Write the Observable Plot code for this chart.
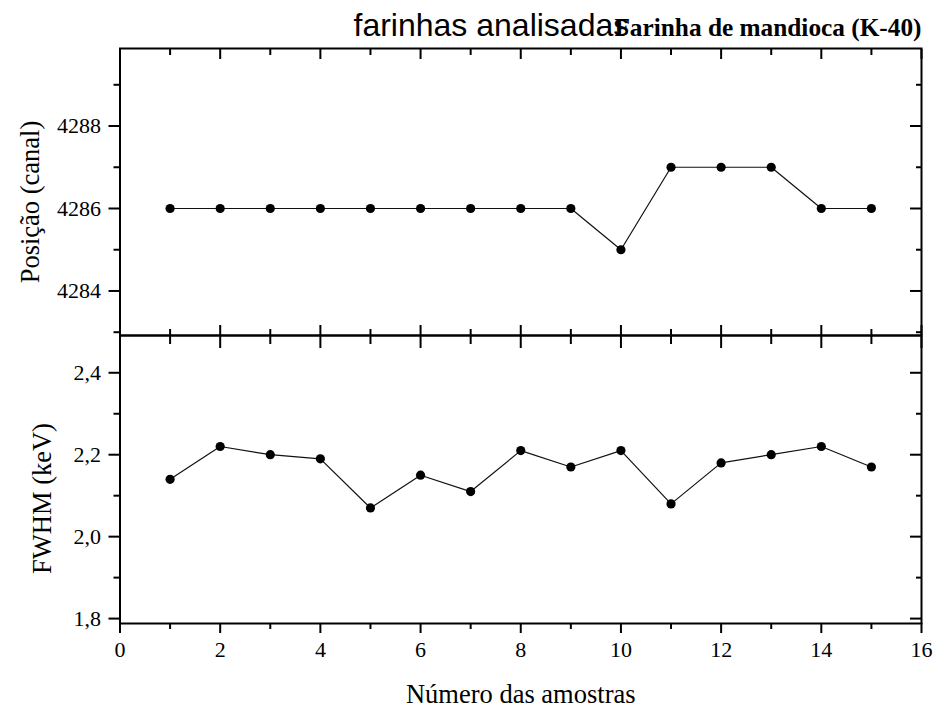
<!DOCTYPE html>
<html>
<head>
<meta charset="utf-8">
<script src="https://cdn.jsdelivr.net/npm/d3@7"></script>
<script src="https://cdn.jsdelivr.net/npm/@observablehq/plot@0.6"></script>
<style>
  html, body { margin: 0; padding: 0; background: #fff; }
  #chart { position: relative; width: 951px; height: 710px; }
  #chart svg { position: absolute; left: 0; top: 0; }
  #chart svg [aria-label$="tick label"],
  #chart svg [aria-label$="tick label"] text {
    font-family: "Liberation Serif", "Times New Roman", serif;
    font-size: 22px;
    font-variant: normal;
  }
</style>
</head>
<body>
<div id="chart"></div>
<script>
// Amostras de farinha de mandioca: posição do pico do K-40 e FWHM
const amostras = [1, 2, 3, 4, 5, 6, 7, 8, 9, 10, 11, 12, 13, 14, 15];
const posicao  = [4286, 4286, 4286, 4286, 4286, 4286, 4286, 4286, 4286, 4285, 4287, 4287, 4287, 4286, 4286];
const fwhm     = [2.14, 2.22, 2.20, 2.19, 2.07, 2.15, 2.11, 2.21, 2.17, 2.21, 2.08, 2.18, 2.20, 2.22, 2.17];

// Escalas e marcas dos eixos
const xDomain   = [0, 16];
const xMajor    = [0, 2, 4, 6, 8, 10, 12, 14, 16];
const xMinor    = [1, 3, 5, 7, 9, 11, 13, 15];
const posDomain = [4282.92, 4289.88];
const posMajor  = [4284, 4286, 4288];
const posMinor  = [4283, 4285, 4287, 4289];
const fwhmDomain = [1.788, 2.491];
const fwhmMajor = [1.8, 2.0, 2.2, 2.4];
const fwhmMinor = [1.9, 2.1, 2.3];

// Textos
const tituloGeral   = "farinhas analisadas";
const tituloAmostra = "Farinha de mandioca (K-40)";
const rotuloX       = "Número das amostras";
const rotuloPos     = "Posição (canal)";
const rotuloFwhm    = "FWHM (keV)";

const serif = "Liberation Serif, Times New Roman, serif";
const sans  = "Liberation Sans, Arial, sans-serif";
const virgula = d => d3.format(".1f")(d).replace(".", ",");

const W = 951, H = 710;
const mLeft = 119.5, mRight = 30;
const topY = 48, midY = 335, botY = 623;

const dadosPos  = amostras.map((a, i) => ({amostra: a, valor: posicao[i]}));
const dadosFwhm = amostras.map((a, i) => ({amostra: a, valor: fwhm[i]}));

const base = {
  width: W, height: H,
  marginLeft: mLeft, marginRight: mRight,
  x: {domain: xDomain, label: null},
  style: {fontFamily: serif, fontSize: "22px", color: "black", background: "transparent", overflow: "visible"}
};

const tick = {strokeWidth: 2, label: null, fontFamily: serif, fontSize: 22};
const rotulo = {fontSize: 26.5, fontFamily: serif, fill: "black"};

// Painel superior: posição do pico
const painelPos = Plot.plot({
  ...base,
  marginTop: topY, marginBottom: H - midY,
  y: {domain: posDomain, label: null},
  marks: [
    Plot.frame({stroke: "black", strokeWidth: 2}),
    // eixo esquerdo (marcas para fora)
    Plot.axisY(posMajor, {...tick, anchor: "left", tickSize: 11, tickPadding: 8, tickFormat: d => String(d)}),
    Plot.axisY(posMinor, {...tick, anchor: "left", tickSize: 6, fill: "none"}),
    // eixo direito (marcas para dentro)
    Plot.axisY(posMajor, {...tick, anchor: "right", tickSize: 12, dx: -12, fill: "none"}),
    Plot.axisY(posMinor, {...tick, anchor: "right", tickSize: 6, dx: -6, fill: "none"}),
    // eixo superior (para dentro)
    Plot.axisX(xMajor, {...tick, anchor: "top", tickSize: 10, dy: 10, fill: "none"}),
    Plot.axisX(xMinor, {...tick, anchor: "top", tickSize: 6, dy: 6, fill: "none"}),
    // linha do meio (para dentro)
    Plot.axisX(xMajor, {...tick, anchor: "bottom", tickSize: 10, dy: -10, fill: "none"}),
    Plot.axisX(xMinor, {...tick, anchor: "bottom", tickSize: 6, dy: -6, fill: "none"}),
    Plot.line(dadosPos, {x: "amostra", y: "valor", stroke: "#111", strokeWidth: 1.2}),
    Plot.dot(dadosPos, {x: "amostra", y: "valor", r: 4.6, fill: "black", stroke: "none"}),
    Plot.text([rotuloPos], {...rotulo, frameAnchor: "left", textAnchor: "middle", rotate: -90, dx: -89, dy: 10}),
    Plot.text([tituloGeral], {frameAnchor: "top-left", textAnchor: "start", lineAnchor: "bottom", dx: 233.5, dy: -13, fontSize: 32, fontFamily: sans, fill: "black"}),
    Plot.text([tituloAmostra], {frameAnchor: "top-right", textAnchor: "end", lineAnchor: "bottom", dy: -13, fontSize: 25.3, fontWeight: "bold", fontFamily: serif, fill: "black"})
  ]
});

// Painel inferior: FWHM
const painelFwhm = Plot.plot({
  ...base,
  marginTop: midY, marginBottom: H - botY,
  y: {domain: fwhmDomain, label: null},
  marks: [
    Plot.frame({stroke: "black", strokeWidth: 2}),
    Plot.axisY(fwhmMajor, {...tick, anchor: "left", tickSize: 11, tickPadding: 8, tickFormat: virgula}),
    Plot.axisY(fwhmMinor, {...tick, anchor: "left", tickSize: 6, fill: "none"}),
    Plot.axisY(fwhmMajor, {...tick, anchor: "right", tickSize: 12, dx: -12, fill: "none"}),
    Plot.axisY(fwhmMinor, {...tick, anchor: "right", tickSize: 6, dx: -6, fill: "none"}),
    // linha do meio (para dentro, para baixo)
    Plot.axisX(xMajor, {...tick, anchor: "top", tickSize: 12, dy: 12, fill: "none"}),
    Plot.axisX(xMinor, {...tick, anchor: "top", tickSize: 8, dy: 8, fill: "none"}),
    // eixo inferior (para fora, com rótulos)
    Plot.axisX(xMajor, {...tick, anchor: "bottom", tickSize: 10, tickPadding: 8}),
    Plot.axisX(xMinor, {...tick, anchor: "bottom", tickSize: 6, fill: "none"}),
    Plot.line(dadosFwhm, {x: "amostra", y: "valor", stroke: "#111", strokeWidth: 1.2}),
    Plot.dot(dadosFwhm, {x: "amostra", y: "valor", r: 4.6, fill: "black", stroke: "none"}),
    Plot.text([rotuloFwhm], {...rotulo, frameAnchor: "left", textAnchor: "middle", rotate: -90, dx: -77, dy: 19}),
    Plot.text([rotuloX], {...rotulo, frameAnchor: "bottom", textAnchor: "middle", lineAnchor: "bottom", dy: 79})
  ]
});

const chart = document.getElementById("chart");
chart.appendChild(painelFwhm);
chart.appendChild(painelPos);
</script>
</body>
</html>
